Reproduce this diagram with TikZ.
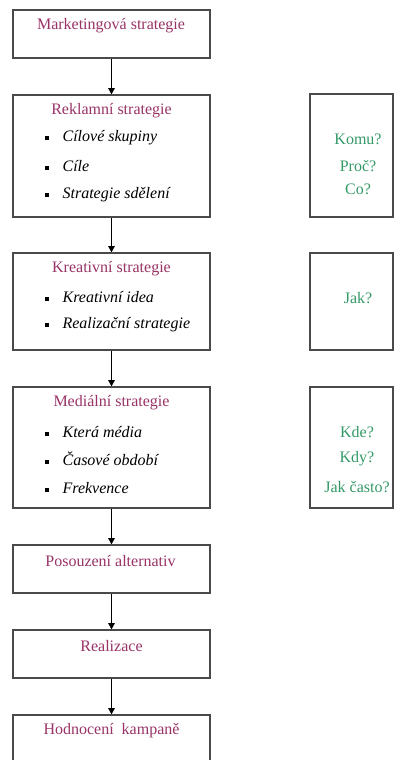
\documentclass[tikz,border=0pt]{standalone}
\usepackage{fontspec}
\setmainfont{Liberation Serif}
\usetikzlibrary{arrows.meta}
\definecolor{plum}{HTML}{993366}
\definecolor{seagreen}{HTML}{339966}
\definecolor{framegray}{HTML}{4A4A4A}
\newcommand{\sqitem}[1]{\rule[1.3pt]{3pt}{3pt}\hspace{10pt}\textit{#1}}
\tikzset{
  flowarr/.style={-{Triangle[length=4.8pt,width=5pt]},line width=0.75pt,color=black},
  stagebox/.style={draw=framegray,fill=white,line width=0.9pt,minimum width=147.75pt,inner sep=0pt},
  askbox/.style={draw=framegray,fill=white,line width=0.9pt,minimum width=62.25pt,inner sep=0pt},
  stagetitle/.style={font=\fontsize{12}{14}\selectfont,text=plum,inner sep=0pt},
  stageitem/.style={font=\fontsize{12}{14}\selectfont,text=black,anchor=west,inner sep=0pt},
  asktext/.style={font=\fontsize{12}{14}\selectfont,text=seagreen,inner sep=0pt}
}
\begin{document}
\begin{tikzpicture}[x=0.75pt,y=-0.75pt]
  \path[use as bounding box,clip] (0,0) rectangle (394,760);
  \fill[white] (0,0) rectangle (394,760);

  \node[stagebox,minimum height=36pt] (mkt) at (111.5,34) {};
  \node[stagebox,minimum height=91.5pt] (rekl) at (111.5,156) {};
  \node[stagebox,minimum height=72.75pt] (krea) at (111.5,301.5) {};
  \node[stagebox,minimum height=90.75pt] (medi) at (111.5,447.5) {};
  \node[stagebox,minimum height=36pt] (alt) at (111.5,569) {};
  \node[stagebox,minimum height=36pt] (real) at (111.5,654) {};
  \node[stagebox,minimum height=36pt] (hodn) at (111.5,739) {};

  \node[askbox,minimum height=92.25pt] (q-rekl) at (351.5,155.5) {};
  \node[askbox,minimum height=72.75pt] (q-krea) at (351.5,301.5) {};
  \node[askbox,minimum height=90.75pt] (q-medi) at (351.5,447.5) {};

  \draw[flowarr] (mkt) -- (rekl);
  \draw[flowarr] (rekl) -- (krea);
  \draw[flowarr] (krea) -- (medi);
  \draw[flowarr] (medi) -- (alt);
  \draw[flowarr] (alt) -- (real);
  \draw[flowarr] (real) -- (hodn);

  \node[stagetitle] (t-mkt) at (111,26) {Marketingová strategie};
  \node[stagetitle] (t-rekl) at (111.5,111) {Reklamní strategie};
  \node[stageitem] (i-skup) at (45,138) {\sqitem{Cílové skupiny}};
  \node[stageitem] (i-cile) at (45,166) {\sqitem{Cíle}};
  \node[stageitem] (i-sdel) at (45,195) {\sqitem{Strategie sdělení}};

  \node[stagetitle] (t-krea) at (111.5,269) {Kreativní strategie};
  \node[stageitem] (i-idea) at (45,297) {\sqitem{Kreativní idea}};
  \node[stageitem] (i-real) at (45,325) {\sqitem{Realizační strategie}};

  \node[stagetitle] (t-medi) at (111.5,403) {Mediální strategie};
  \node[stageitem] (i-media) at (45,432) {\sqitem{Která média}};
  \node[stageitem] (i-obdobi) at (45,459) {\sqitem{Časové období}};
  \node[stageitem] (i-frekv) at (45,488) {\sqitem{Frekvence}};

  \node[stagetitle] (t-alt) at (110.5,561) {Posouzení alternativ};
  \node[stagetitle] (t-real) at (111.5,646) {Realizace};
  \node[stagetitle] (t-hodn) at (111.5,731) {Hodnocení\ \ kampaně};

  \node[asktext] (a-komu) at (358,139) {Komu?};
  \node[asktext] (a-proc) at (358,166) {Proč?};
  \node[asktext] (a-co) at (358,189) {Co?};
  \node[asktext] (a-jak) at (358,298) {Jak?};
  \node[asktext] (a-kde) at (357,432) {Kde?};
  \node[asktext] (a-kdy) at (357,459) {Kdy?};
  \node[asktext] (a-casto) at (357,487) {Jak často?};
\end{tikzpicture}
\end{document}
